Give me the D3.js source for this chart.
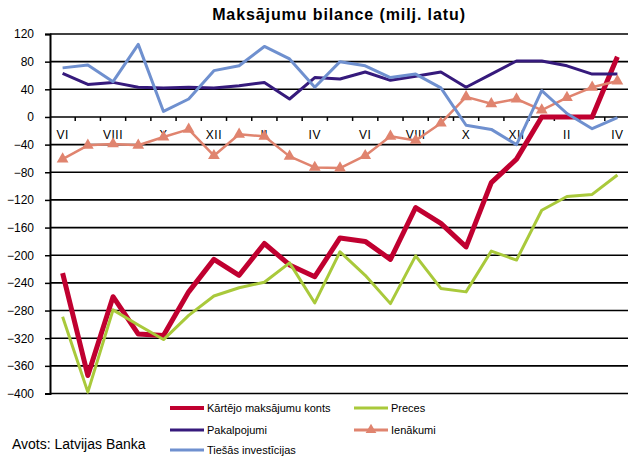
<!DOCTYPE html>
<html>
<head>
  <meta charset="UTF-8">
  <style>
    body { margin: 0; background: white; }
    svg { display: block; font-family: "Liberation Sans", Arial, sans-serif; }
  </style>
</head>
<body>
<svg></svg>
<script src="https://d3js.org/d3.v7.min.js"></script>
<script>

let width = 628, height = 456;

// months VI 2008 .. IV 2010
let months = ["VI","VII","VIII","IX","X","XI","XII","I","II","III","IV","V",
              "VI","VII","VIII","IX","X","XI","XII","I","II","III","IV"];
let yTicks = [120, 80, 40, 0, -40, -80, -120, -160, -200, -240, -280, -320, -360, -400];

// series (milj. latu)
let kartejo = [-226, -374, -260, -314, -316, -253, -206, -229, -183, -214, -231, -175,
               -180, -206, -131, -154, -188, -95, -61, 0, 0, 0, 87];
let preces = [-289, -398, -279, -301, -322, -287, -259, -247, -239, -211, -269, -195,
              -229, -270, -201, -248, -253, -194, -207, -135, -115, -112, -84];
let pakalpojumi = [63, 47, 50, 43, 42, 43, 42, 45, 50, 26, 57, 55,
                   65, 53, 59, 65, 43, 62, 81, 81, 74, 62, 62];
let ienakumi = [-61, -41, -39, -41, -29, -18, -56, -25, -28, -57, -73, -74,
                -56, -28, -34, -9, 29, 19, 26, 10, 28, 43, 52];
let tiesas = [71, 75, 51, 105, 8, 26, 67, 74, 102, 84, 43, 80,
              74, 57, 62, 42, -12, -18, -40, 38, 5, -17, -1];

let series = [
  {name: "Kārtējo maksājumu konts", values: kartejo, color: "#c00030", w: 5},
  {name: "Preces", values: preces, color: "#a9c93b", w: 3},
  {name: "Pakalpojumi", values: pakalpojumi, color: "#361a7c", w: 3},
  {name: "Ienākumi", values: ienakumi, color: "#e0846f", w: 2.5, marker: true},
  {name: "Tiešās investīcijas", values: tiesas, color: "#6f90cf", w: 3}
];

let svg = d3.select("svg")
    .attr("width", width)
    .attr("height", height);

let x = d3.scaleBand()
    .domain(d3.range(months.length))
    .range([50, 630]);

let y = d3.scaleLinear()
    .domain([-400, 120])
    .range([393.5, 34]);

// title
svg.append("text")
    .attr("x", 339).attr("y", 20)
    .attr("text-anchor", "middle")
    .style("font-size", "16px")
    .style("font-weight", "bold")
    .style("letter-spacing", "0.9px")
    .text("Maksājumu bilance (milj. latu)");

// gridlines
svg.append("g").selectAll("line")
    .data(yTicks)
    .enter().append("line")
    .attr("x1", 50).attr("x2", width)
    .attr("y1", d => y(d)).attr("y2", d => y(d))
    .attr("stroke", "black")
    .attr("stroke-width", 1.6);

// y axis
let yAxis = svg.append("g")
    .attr("transform", "translate(50,0)")
    .call(d3.axisLeft(y).tickValues(yTicks).tickSize(5).tickPadding(11));
yAxis.select(".domain").attr("stroke-width", 2);
yAxis.selectAll(".tick line").attr("stroke-width", 1.5);
yAxis.selectAll("text").style("font-size", "12px").attr("font-family", null);

// x ticks on zero line
svg.append("g").selectAll("line")
    .data(d3.range(1, months.length))
    .enter().append("line")
    .attr("x1", d => x(d)).attr("x2", d => x(d))
    .attr("y1", y(0)).attr("y2", y(0) + 4)
    .attr("stroke", "black")
    .attr("stroke-width", 1.5);

// month labels, every second one
svg.append("g").selectAll("text")
    .data(months.map((m, i) => ({m, i})).filter(d => d.i % 2 === 0))
    .enter().append("text")
    .attr("x", d => x(d.i) + x.bandwidth() / 2)
    .attr("y", y(0) + 22)
    .attr("text-anchor", "middle")
    .style("font-size", "12px")
    .style("letter-spacing", "0.5px")
    .text(d => d.m);

// lines
let line = d3.line()
    .x((d, i) => x(i) + x.bandwidth() / 2)
    .y(d => y(d));

series.forEach(s => {
    svg.append("path")
        .datum(s.values)
        .attr("d", line)
        .attr("fill", "none")
        .attr("stroke", s.color)
        .attr("stroke-width", s.w)
        .attr("stroke-linejoin", "round");
    if (s.marker) {
        svg.append("g").selectAll("path")
            .data(s.values)
            .enter().append("path")
            .attr("d", d3.symbol().type(d3.symbolTriangle).size(60))
            .attr("transform", (d, i) => `translate(${x(i) + x.bandwidth() / 2},${y(d)})`)
            .attr("fill", s.color);
    }
});

// legend
let legendPos = [
  [170, 408], [354, 408],
  [170, 430], [354, 430],
  [170, 450]
];
series.forEach((s, i) => {
    let g = svg.append("g")
        .attr("transform", `translate(${legendPos[i][0]},${legendPos[i][1]})`);
    g.append("line")
        .attr("x1", 0).attr("x2", 34)
        .attr("stroke", s.color)
        .attr("stroke-width", s.w > 3 ? 4 : 3);
    if (s.marker) {
        g.append("path")
            .attr("d", d3.symbol().type(d3.symbolTriangle).size(50))
            .attr("transform", "translate(17,0)")
            .attr("fill", s.color);
    }
    g.append("text")
        .attr("x", 37).attr("y", 4)
        .style("font-size", "11px")
        .text(s.name);
});

svg.append("text")
    .attr("x", 12).attr("y", 449)
    .style("font-size", "14px")
    .text("Avots: Latvijas Banka");

</script>
</body>
</html>
